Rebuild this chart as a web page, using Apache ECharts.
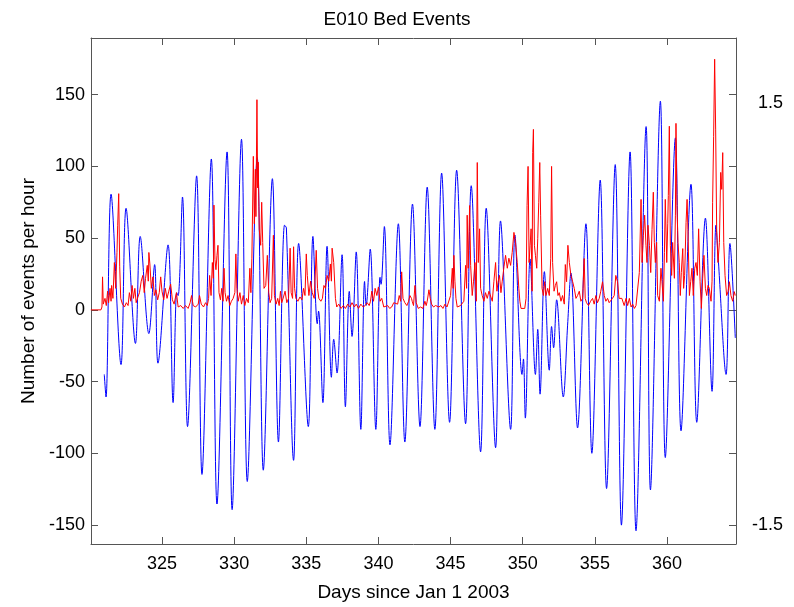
<!DOCTYPE html>
<html><head><meta charset="utf-8">
<script src="https://cdn.jsdelivr.net/npm/echarts@6/dist/echarts.min.js"></script>
<style>html,body{margin:0;padding:0;background:#fff}#c{width:794px;height:607px}</style>
</head><body><div id="c"></div>
<script>
const titleText = 'E010 Bed Events';
const xName = 'Days since Jan 1 2003';
const yName = 'Number of events per hour';
const xTicks = [325, 330, 335, 340, 345, 350, 355, 360];
const leftTicks = [-150, -100, -50, 0, 50, 100, 150];
const rightTicks = [-1.5, 1.5];

// blue: water level (right axis), [day, level]
const blueLevel = [
[321.00,-0.43],[321.12,-0.59],[321.47,0.85],[322.16,-0.36],[322.51,0.75],[323.16,-0.21],[323.49,0.55],
[324.09,-0.14],[324.49,0.35],[324.72,-0.35],[325.42,0.49],[325.77,-0.63],[326.02,0.15],[326.12,0.13],
[326.42,0.83],[326.77,-0.80],[327.40,0.98],[327.77,-1.14],[328.42,1.10],[328.81,-1.35],[329.51,1.15],
[329.86,-1.39],[330.51,1.24],[330.91,-1.19],[331.60,1.11],[332.02,-1.11],[332.65,0.96],[333.07,-0.91],
[333.49,0.63],[333.62,0.61],[334.12,-1.04],[334.47,0.50],[335.14,-0.80],[335.46,0.55],[335.76,-0.07],
[335.85,0.02],[336.15,-0.63],[336.44,0.48],[336.74,-0.45],[336.90,-0.18],[337.13,-0.42],[337.48,0.42],
[337.71,-0.66],[337.98,0.16],[338.17,-0.16],[338.46,0.44],[338.78,-0.82],[339.04,0.23],[339.15,0.06],
[339.43,0.46],[339.82,-0.82],[340.11,0.26],[340.18,0.21],[340.41,0.62],[340.80,-0.93],[341.38,0.64],
[341.83,-0.91],[342.36,0.78],[342.88,-0.80],[343.38,0.90],[343.91,-0.82],[344.38,1.00],[344.93,-0.77],
[345.42,1.02],[346.04,-0.78],[346.43,0.91],[347.08,-0.98],[347.47,0.75],[348.12,-0.95],[348.46,0.66],
[349.16,-0.82],[349.46,0.56],[349.95,-0.43],[350.05,-0.32],[350.18,-0.74],[350.51,0.39],[350.88,-0.43],
[351.04,-0.11],[351.20,-0.57],[351.50,0.30],[351.84,-0.40],[352.00,-0.09],[352.14,-0.24],[352.35,0.10],
[352.81,-0.59],[353.11,-0.08],[353.34,0.29],[353.80,-0.81],[354.38,0.64],[354.79,-0.99],[355.37,0.95],
[355.81,-1.24],[356.41,1.06],[356.84,-1.50],[357.44,1.15],[357.85,-1.54],[358.55,1.33],[358.85,-1.25],
[359.54,1.51],[359.88,-1.02],[360.58,1.25],[360.97,-0.83],[361.66,0.92],[362.06,-0.77],[362.66,0.68],
[363.12,-0.55],[363.39,0.63],[363.55,0.39],[364.09,-0.43],[364.36,0.50],[364.73,-0.17]
];

// red: bed events per hour (left axis), [day, count]
const redEvents = [
[320.07,0],[320.77,0],[320.84,2],[320.88,23],[320.93,4],[321.05,8],[321.14,3],[321.23,13],[321.30,5],[321.40,15],
[321.47,6],[321.51,17],[321.60,8],[321.70,33],[321.79,15],[321.88,40],[321.93,59],[322.00,81],[322.07,30],[322.14,8],
[322.26,4],[322.40,2],[322.53,5],[322.65,3],[322.74,12],[322.84,6],[322.93,17],[323.02,8],[323.12,15],[323.21,5],
[323.33,9],[323.44,12],[323.56,20],[323.67,24],[323.77,12],[323.86,22],[323.98,31],[324.05,20],[324.09,40],[324.16,32],
[324.26,15],[324.37,23],[324.47,10],[324.58,14],[324.70,7],[324.81,12],[324.91,23],[325.00,13],[325.12,7],[325.23,15],
[325.35,8],[325.47,13],[325.60,18],[325.72,7],[325.84,4],[326.00,12],[326.12,2],[326.30,3],[326.47,1],[326.63,3],
[326.81,1],[326.95,5],[327.05,10],[327.16,3],[327.33,2],[327.51,4],[327.60,10],[327.72,4],[327.88,2],[328.02,5],
[328.14,3],[328.23,8],[328.30,24],[328.40,10],[328.49,33],[328.56,22],[328.60,73],[328.67,35],[328.74,28],[328.81,38],
[328.88,45],[328.95,12],[329.05,7],[329.14,15],[329.23,6],[329.30,29],[329.37,12],[329.47,6],[329.58,10],[329.70,3],
[329.81,6],[329.93,8],[330.05,12],[330.12,39],[330.19,15],[330.28,6],[330.40,12],[330.51,4],[330.63,10],[330.74,3],
[330.86,8],[330.98,5],[331.09,29],[331.16,12],[331.23,36],[331.33,107],[331.40,60],[331.47,98],[331.51,65],[331.58,146.5],
[331.63,85],[331.67,103],[331.74,56],[331.84,45],[331.91,75],[331.98,47],[332.07,15],[332.19,17],[332.30,38],[332.40,12],
[332.49,5],[332.60,8],[332.72,52],[332.79,10],[332.91,4],[333.02,8],[333.12,3],[333.21,13],[333.30,5],[333.42,9],
[333.53,13],[333.65,5],[333.77,8],[333.88,43],[333.95,12],[334.05,8],[334.12,44],[334.19,15],[334.28,8],[334.42,6],
[334.56,9],[334.70,7],[334.81,15],[334.91,10],[335.00,39],[335.07,24],[335.18,10],[335.30,20],[335.41,12],[335.55,8],
[335.69,41.5],[335.78,15],[335.87,8],[336.01,6],[336.12,8],[336.22,17],[336.33,15],[336.44,24],[336.56,20],[336.67,32],
[336.74,20],[336.79,43],[336.90,33],[337.02,8],[337.11,2],[337.25,4],[337.41,1],[337.57,3],[337.71,1],[337.87,4],
[338.03,2],[338.17,5],[338.33,2],[338.46,4],[338.62,1],[338.78,4],[338.94,2],[339.08,3],[339.22,5],[339.36,3],
[339.45,6],[339.54,13],[339.66,6],[339.77,15],[339.89,10],[340.00,16],[340.11,6],[340.23,8],[340.37,2],[340.50,1],
[340.64,3],[340.78,1],[340.92,2],[341.06,5],[341.19,6],[341.33,4],[341.44,10],[341.54,6],[341.61,26.5],[341.70,8],
[341.83,5],[341.97,3],[342.09,6],[342.18,10],[342.29,8],[342.34,6],[342.43,3],[342.53,17],[342.62,5],[342.76,1],
[342.92,2],[343.08,1],[343.22,6],[343.31,3],[343.38,6],[343.50,14],[343.59,8],[343.68,4],[343.82,2],[343.96,3],
[344.08,4],[344.19,2],[344.33,3],[344.47,1],[344.61,4],[344.75,2],[344.88,3],[345.00,10],[345.12,29],[345.18,15],
[345.23,38],[345.30,20],[345.37,8],[345.46,2],[345.58,1],[345.69,3],[345.81,2],[345.92,6],[346.04,31],[346.11,15],
[346.15,66],[346.22,29],[346.32,72.7],[346.39,31],[346.50,10],[346.59,20],[346.69,33],[346.78,6],[346.85,102.7],[346.92,33],
[347.01,56.5],[347.08,15],[347.19,10],[347.31,6],[347.42,12],[347.54,8],[347.66,13],[347.77,13],[347.89,6],[348.00,19.6],
[348.12,33],[348.21,13],[348.30,20],[348.39,24],[348.49,12],[348.58,20],[348.70,30],[348.81,38],[348.93,29],[349.04,36],
[349.16,31],[349.27,40],[349.39,54],[349.50,47],[349.62,33],[349.73,15],[349.80,6],[349.88,1],[350.00,0],[350.14,1],
[350.23,8],[350.30,72.7],[350.37,100],[350.44,33],[350.51,45],[350.58,56.5],[350.65,13],[350.69,109.6],[350.74,125.8],[350.81,45],
[350.88,38],[350.97,29],[351.04,49.6],[351.11,75],[351.18,102.7],[351.24,66],[351.34,15],[351.43,10],[351.52,19.6],[351.61,10],
[351.73,15],[351.84,10],[351.94,36],[352.00,100],[352.07,33],[352.17,13],[352.26,17],[352.35,19.6],[352.44,10],[352.53,12],
[352.65,6],[352.76,10],[352.88,4],[352.95,31.6],[353.04,19.6],[353.13,45],[353.23,33],[353.34,24],[353.46,19.6],[353.57,15],
[353.69,8],[353.80,10],[353.92,13],[354.03,6],[354.15,8],[354.26,35.8],[354.33,8],[354.42,5],[354.56,3],[354.70,6],
[354.84,8],[354.95,4],[355.07,10],[355.18,5],[355.30,8],[355.41,13],[355.53,19.6],[355.65,10],[355.76,6],[355.88,8],
[355.99,5],[356.11,6],[356.22,8],[356.34,10],[356.45,24],[356.57,19.6],[356.68,8],[356.87,8],[357.03,3],[357.16,8],
[357.27,3],[357.39,8],[357.51,2],[357.62,4],[357.74,1],[357.85,3],[357.97,2],[358.08,26],[358.20,77],[358.27,33],
[358.36,52],[358.45,66],[358.54,45],[358.61,33],[358.68,59],[358.78,45],[358.87,26],[358.96,56],[359.05,82],[359.12,47],
[359.19,33],[359.28,47],[359.35,10],[359.47,6],[359.58,29],[359.65,19.6],[359.75,6],[359.82,40],[359.88,77],[359.98,33],
[360.05,60],[360.09,79.6],[360.16,128],[360.23,45],[360.32,24],[360.39,47],[360.51,22],[360.58,66],[360.62,130],[360.69,72.7],
[360.76,47],[360.85,33],[360.92,10],[360.99,26],[361.09,42.7],[361.15,15],[361.22,24],[361.32,61],[361.39,77],[361.45,56],
[361.55,10],[361.64,19.6],[361.73,29],[361.82,10],[361.92,29],[362.01,33],[362.10,24],[362.19,56.5],[362.29,19.6],[362.38,1],
[362.47,22],[362.56,38],[362.66,15],[362.75,10],[362.84,17],[362.93,15],[363.05,6],[363.12,20],[363.16,75],[363.23,121],
[363.30,174.7],[363.37,126],[363.44,56.5],[363.53,33],[363.63,47],[363.72,95.8],[363.79,84],[363.86,109.6],[363.93,47],[364.02,24],
[364.13,10],[364.23,12.7],[364.32,19.6],[364.43,10],[364.55,6],[364.66,12.7],[364.73,10]
];

const FONT = '"Liberation Sans", Arial, Helvetica, sans-serif';
const X_MIN = 320.08, X_MAX = 364.78;
const L_MIN = -163.2, L_MAX = 189.5;
const R_MIN = -1.634, R_MAX = 1.959;
const AXIS_COLOR = '#555';

const chart = echarts.init(document.getElementById('c'), null, {renderer: 'canvas'});
const tickStyle = {inside: true, length: 7, lineStyle: {color: AXIS_COLOR, width: 1}};
const lineStyle = {show: true, onZero: false, lineStyle: {color: AXIS_COLOR, width: 1}};
const labelStyle = {color: '#000', fontSize: 18, fontFamily: FONT};

chart.setOption({
  animation: false,
  backgroundColor: '#fff',
  title: {
    text: titleText, left: 'center', top: 5,
    textStyle: {color: '#000', fontSize: 19, fontWeight: 'normal', fontFamily: FONT}
  },
  grid: {left: 91, right: 58, top: 38, bottom: 60, containLabel: false},
  xAxis: [
    {
      type: 'value', position: 'bottom', min: X_MIN, max: X_MAX,
      axisLine: lineStyle,
      axisTick: Object.assign({customValues: xTicks}, tickStyle),
      axisLabel: Object.assign({customValues: xTicks, margin: 11}, labelStyle),
      splitLine: {show: false},
      name: xName, nameLocation: 'middle', nameGap: 39,
      nameTextStyle: {color: '#000', fontSize: 19, fontFamily: FONT}
    },
    {
      type: 'value', position: 'top', min: X_MIN, max: X_MAX,
      axisLine: lineStyle,
      axisTick: Object.assign({customValues: xTicks}, tickStyle),
      axisLabel: {show: false},
      splitLine: {show: false}
    }
  ],
  yAxis: [
    {
      type: 'value', position: 'left', min: L_MIN, max: L_MAX,
      axisLine: lineStyle,
      axisTick: Object.assign({customValues: leftTicks}, tickStyle),
      axisLabel: Object.assign({customValues: leftTicks, margin: 6}, labelStyle),
      splitLine: {show: false},
      name: yName, nameLocation: 'middle', nameGap: 52, nameRotate: 90,
      nameTextStyle: {color: '#000', fontSize: 19, fontFamily: FONT}
    },
    {
      type: 'value', position: 'right', min: R_MIN, max: R_MAX,
      axisLine: {show: false},
      axisTick: {show: false},
      axisLabel: Object.assign({customValues: rightTicks, margin: 47, align: 'right',
        formatter: v => String(v)}, labelStyle),
      splitLine: {show: false}
    },
    {
      type: 'value', position: 'right', min: L_MIN, max: L_MAX,
      axisLine: lineStyle,
      axisTick: Object.assign({customValues: leftTicks}, tickStyle),
      axisLabel: {show: false},
      splitLine: {show: false}
    }
  ],
  series: [
    {
      type: 'line', name: 'level', xAxisIndex: 0, yAxisIndex: 1,
      data: blueLevel, showSymbol: false, smooth: 0.35,
      lineStyle: {color: '#0000ff', width: 1}, z: 2
    },
    {
      type: 'line', name: 'events', xAxisIndex: 0, yAxisIndex: 0,
      data: redEvents, showSymbol: false,
      lineStyle: {color: '#ff0000', width: 1}, z: 3
    }
  ]
});
</script>
</body></html>
